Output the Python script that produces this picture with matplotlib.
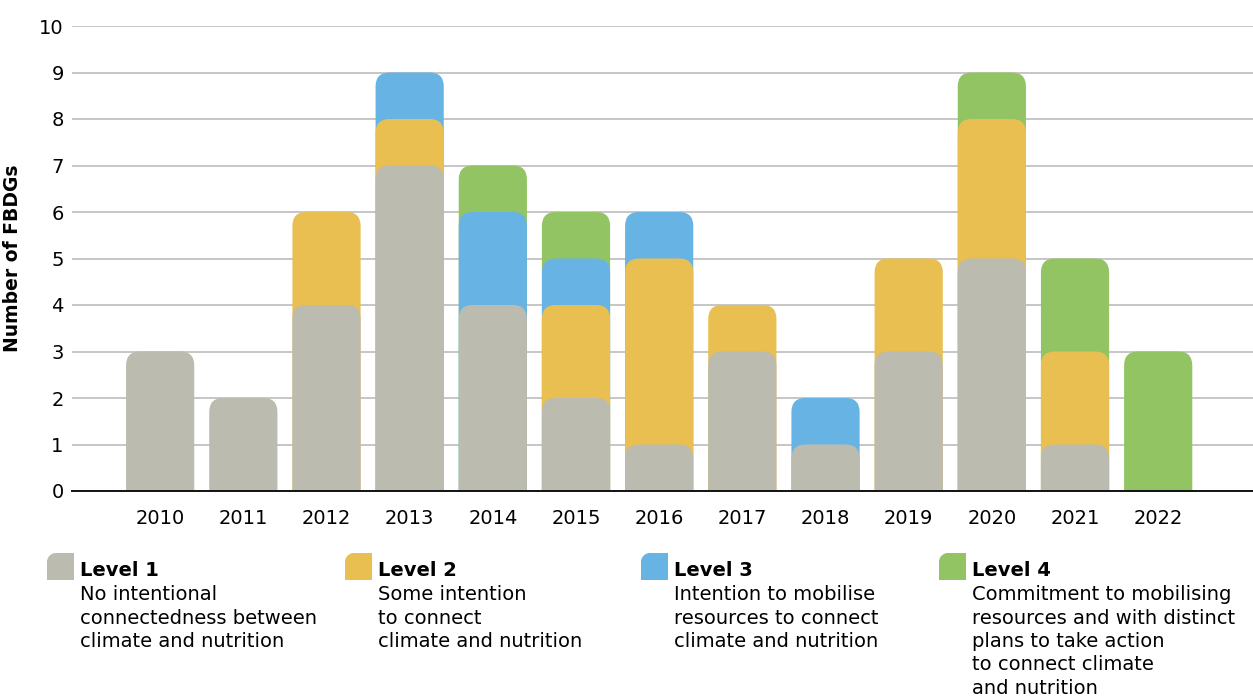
import numpy as np
import matplotlib.pyplot as plt
from matplotlib.patches import FancyBboxPatch, PathPatch
from matplotlib.path import Path

plt.rcParams['font.family'] = ['DejaVu Sans']

years = ['2010', '2011', '2012', '2013', '2014', '2015', '2016',
         '2017', '2018', '2019', '2020', '2021', '2022']
level1 = [3, 2, 4, 7, 4, 2, 1, 3, 1, 3, 5, 1, 0]
level2 = [0, 0, 2, 1, 0, 2, 4, 1, 0, 2, 3, 2, 0]
level3 = [0, 0, 0, 1, 2, 1, 1, 0, 1, 0, 0, 0, 0]
level4 = [0, 0, 0, 0, 1, 1, 0, 0, 0, 0, 1, 2, 3]

colors = ['#BBBBAF', '#E9BF52', '#67B3E3', '#93C464']
titles = ['Level 1', 'Level 2', 'Level 3', 'Level 4']
descs = ['No intentional\nconnectedness between\nclimate and nutrition',
         'Some intention\nto connect\nclimate and nutrition',
         'Intention to mobilise\nresources to connect\nclimate and nutrition',
         'Commitment to mobilising\nresources and with distinct\nplans to take action\nto connect climate\nand nutrition']

fig = plt.figure(figsize=(12.53, 6.99), dpi=100)
ax = fig.add_axes([72 / 1253, 1 - 491 / 699, 1 - 72 / 1253, (491 - 26) / 699])

x = np.arange(len(years))
xmin, xmax = -1.06, 13.14
ax.set_xlim(xmin, xmax)
ax.set_ylim(0, 10)

# units per pixel, to keep the corner radius round
xu = (xmax - xmin) / (1253 - 72)
yu = 10 / (491 - 26)
rad_px = 14
width = 0.82

levels = [level1, level2, level3, level4]
cum = np.cumsum(np.array(levels), axis=0)
# draw tallest first so that lower levels sit on top
for k in range(3, -1, -1):
    for i in range(len(years)):
        if levels[k][i] == 0:
            continue
        top = cum[k][i]
        p = FancyBboxPatch((x[i] - width / 2, -1), width, top + 1,
                           boxstyle='round,pad=0,rounding_size=%f' % (rad_px * xu),
                           mutation_aspect=yu / xu,
                           fc=colors[k], ec='none', zorder=3)
        ax.add_patch(p)

ax.set_yticks(range(0, 11))
ax.set_xticks(x)
ax.set_xticklabels(years)
ax.tick_params(axis='both', length=0, labelsize=14)
ax.tick_params(axis='x', pad=13)
ax.tick_params(axis='y', pad=6)
ax.grid(axis='y', color='#C6C6C6', lw=1.4, zorder=0)
for s in ['left', 'right', 'top']:
    ax.spines[s].set_visible(False)
ax.spines['bottom'].set_color('#111111')
ax.spines['bottom'].set_linewidth(1.4)
ax.spines['bottom'].set_zorder(5)
ax.set_ylabel('Number of FBDGs', fontsize=13.5, fontweight='bold', labelpad=12)

# legend with rounded top-left corner
W, H = 1253, 699
sq_x = [47, 345, 641, 939]
for k in range(4):
    x0, x1 = sq_x[k] / W, (sq_x[k] + 27) / W
    y1, y0 = 1 - 553 / H, 1 - 580 / H
    r = 9
    t = np.linspace(np.pi, np.pi / 2, 12)
    cx, cy = sq_x[k] + r, 553 + r
    arc = [((cx + r * np.cos(a)) / W, 1 - (cy - r * np.sin(a)) / H) for a in t]
    verts = [(x0, y0)] + arc + [(x1, y1), (x1, y0), (x0, y0)]
    codes = [Path.MOVETO] + [Path.LINETO] * (len(verts) - 2) + [Path.CLOSEPOLY]
    fig.patches.append(PathPatch(Path(verts, codes), fc=colors[k], ec='none',
                                 transform=fig.transFigure))
    fig.text((sq_x[k] + 33) / W, 1 - 570 / H, titles[k], fontsize=14,
             fontweight='bold', va='center', ha='left')
    fig.text((sq_x[k] + 33) / W, 1 - 585 / H, descs[k], fontsize=14,
             va='top', ha='left', linespacing=1.3)

fig.savefig('out.png', dpi=100)
